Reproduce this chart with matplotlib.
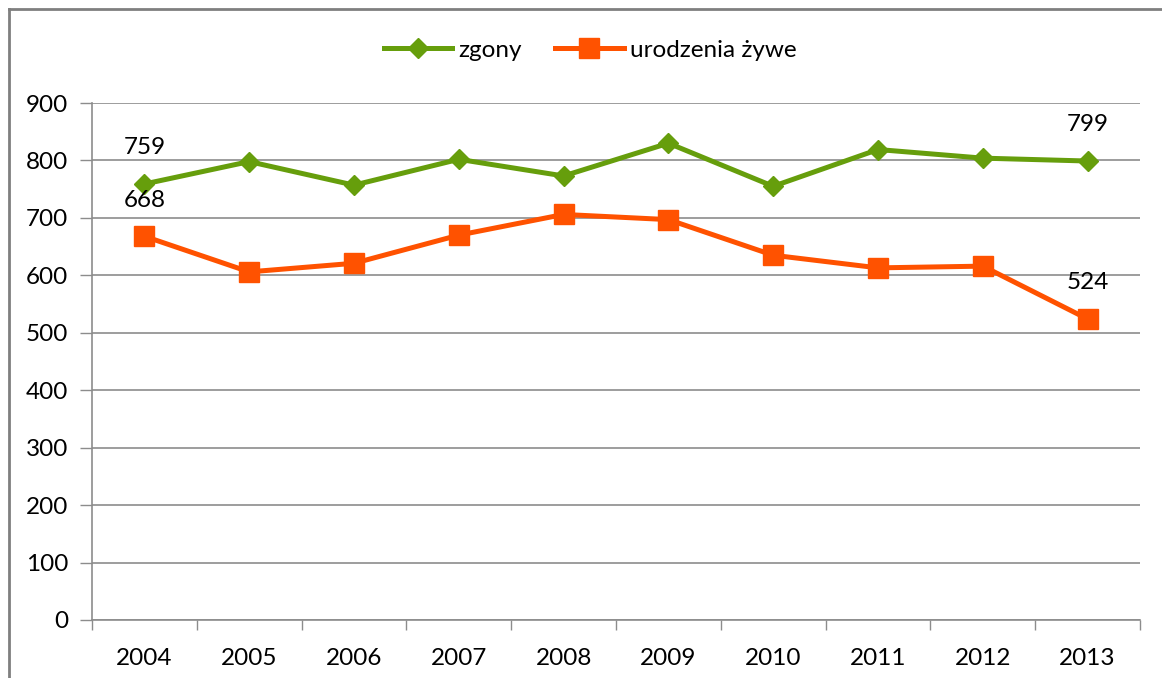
import matplotlib
matplotlib.use("Agg")
from matplotlib import pyplot as plt
from matplotlib.lines import Line2D

years = ['2004', '2005', '2006', '2007', '2008', '2009', '2010', '2011', '2012', '2013']
zgony = [759, 798, 757, 802, 773, 830, 755, 819, 804, 799]
urodzenia = [668, 606, 621, 670, 706, 697, 635, 613, 616, 524]

plt.rcParams['font.family'] = ['Lato', 'DejaVu Sans']
plt.rcParams['font.size'] = 17.5

green = '#669E0C'
orange = '#FF5200'
grid = '#8C8C8C'

W, H = 1162, 678
fig = plt.figure(figsize=(W / 100, H / 100), dpi=100)
ax = fig.add_axes([92 / W, 1 - 620 / H, (1140 - 92) / W, (620 - 103) / H])

x = list(range(len(years)))
ax.plot(x, zgony, color=green, lw=3.6, marker='D', markersize=10.5, label='zgony')
ax.plot(x, urodzenia, color=orange, lw=3.6, marker='s', markersize=15, label='urodzenia żywe')

# data labels for first and last points only
for i in (0, len(years) - 1):
    ax.annotate(str(zgony[i]), (x[i], zgony[i]), xytext=(0, 26), textcoords='offset points',
                ha='center', va='center')
    ax.annotate(str(urodzenia[i]), (x[i], urodzenia[i]), xytext=(0, 26), textcoords='offset points',
                ha='center', va='center')

ax.set_xlim(-0.5, len(years) - 0.5)
ax.set_ylim(0, 900)
ax.set_yticks(range(0, 901, 100))
ax.set_xticks([i - 0.5 for i in range(len(years) + 1)])
ax.set_xticklabels([])
ax.set_xticks(x, minor=True)
ax.set_xticklabels(years, minor=True)
ax.tick_params(axis='x', which='major', length=7, color=grid, width=1)
ax.tick_params(axis='x', which='minor', length=0, pad=20)
ax.tick_params(axis='y', length=9, color=grid, width=1, pad=8)

ax.yaxis.grid(True, color=grid, lw=1.2)
ax.set_axisbelow(True)
for side in ('top', 'right'):
    ax.spines[side].set_visible(False)
for side in ('left', 'bottom'):
    ax.spines[side].set_color(grid)
    ax.spines[side].set_linewidth(1.2)

fig.legend(loc='center', bbox_to_anchor=(590 / W, 1 - 50 / H), ncol=2, frameon=False,
           handlelength=2.8, columnspacing=1.4, handletextpad=0.25)

# outer chart border (top and left edges visible)
fig.add_artist(Line2D([9 / W, 9 / W], [0, 1 - 9 / H], color='#7F7F7F', lw=2, transform=fig.transFigure))
fig.add_artist(Line2D([9 / W, 1], [1 - 9 / H, 1 - 9 / H], color='#7F7F7F', lw=2, transform=fig.transFigure))

fig.savefig('out.png', dpi=100)
